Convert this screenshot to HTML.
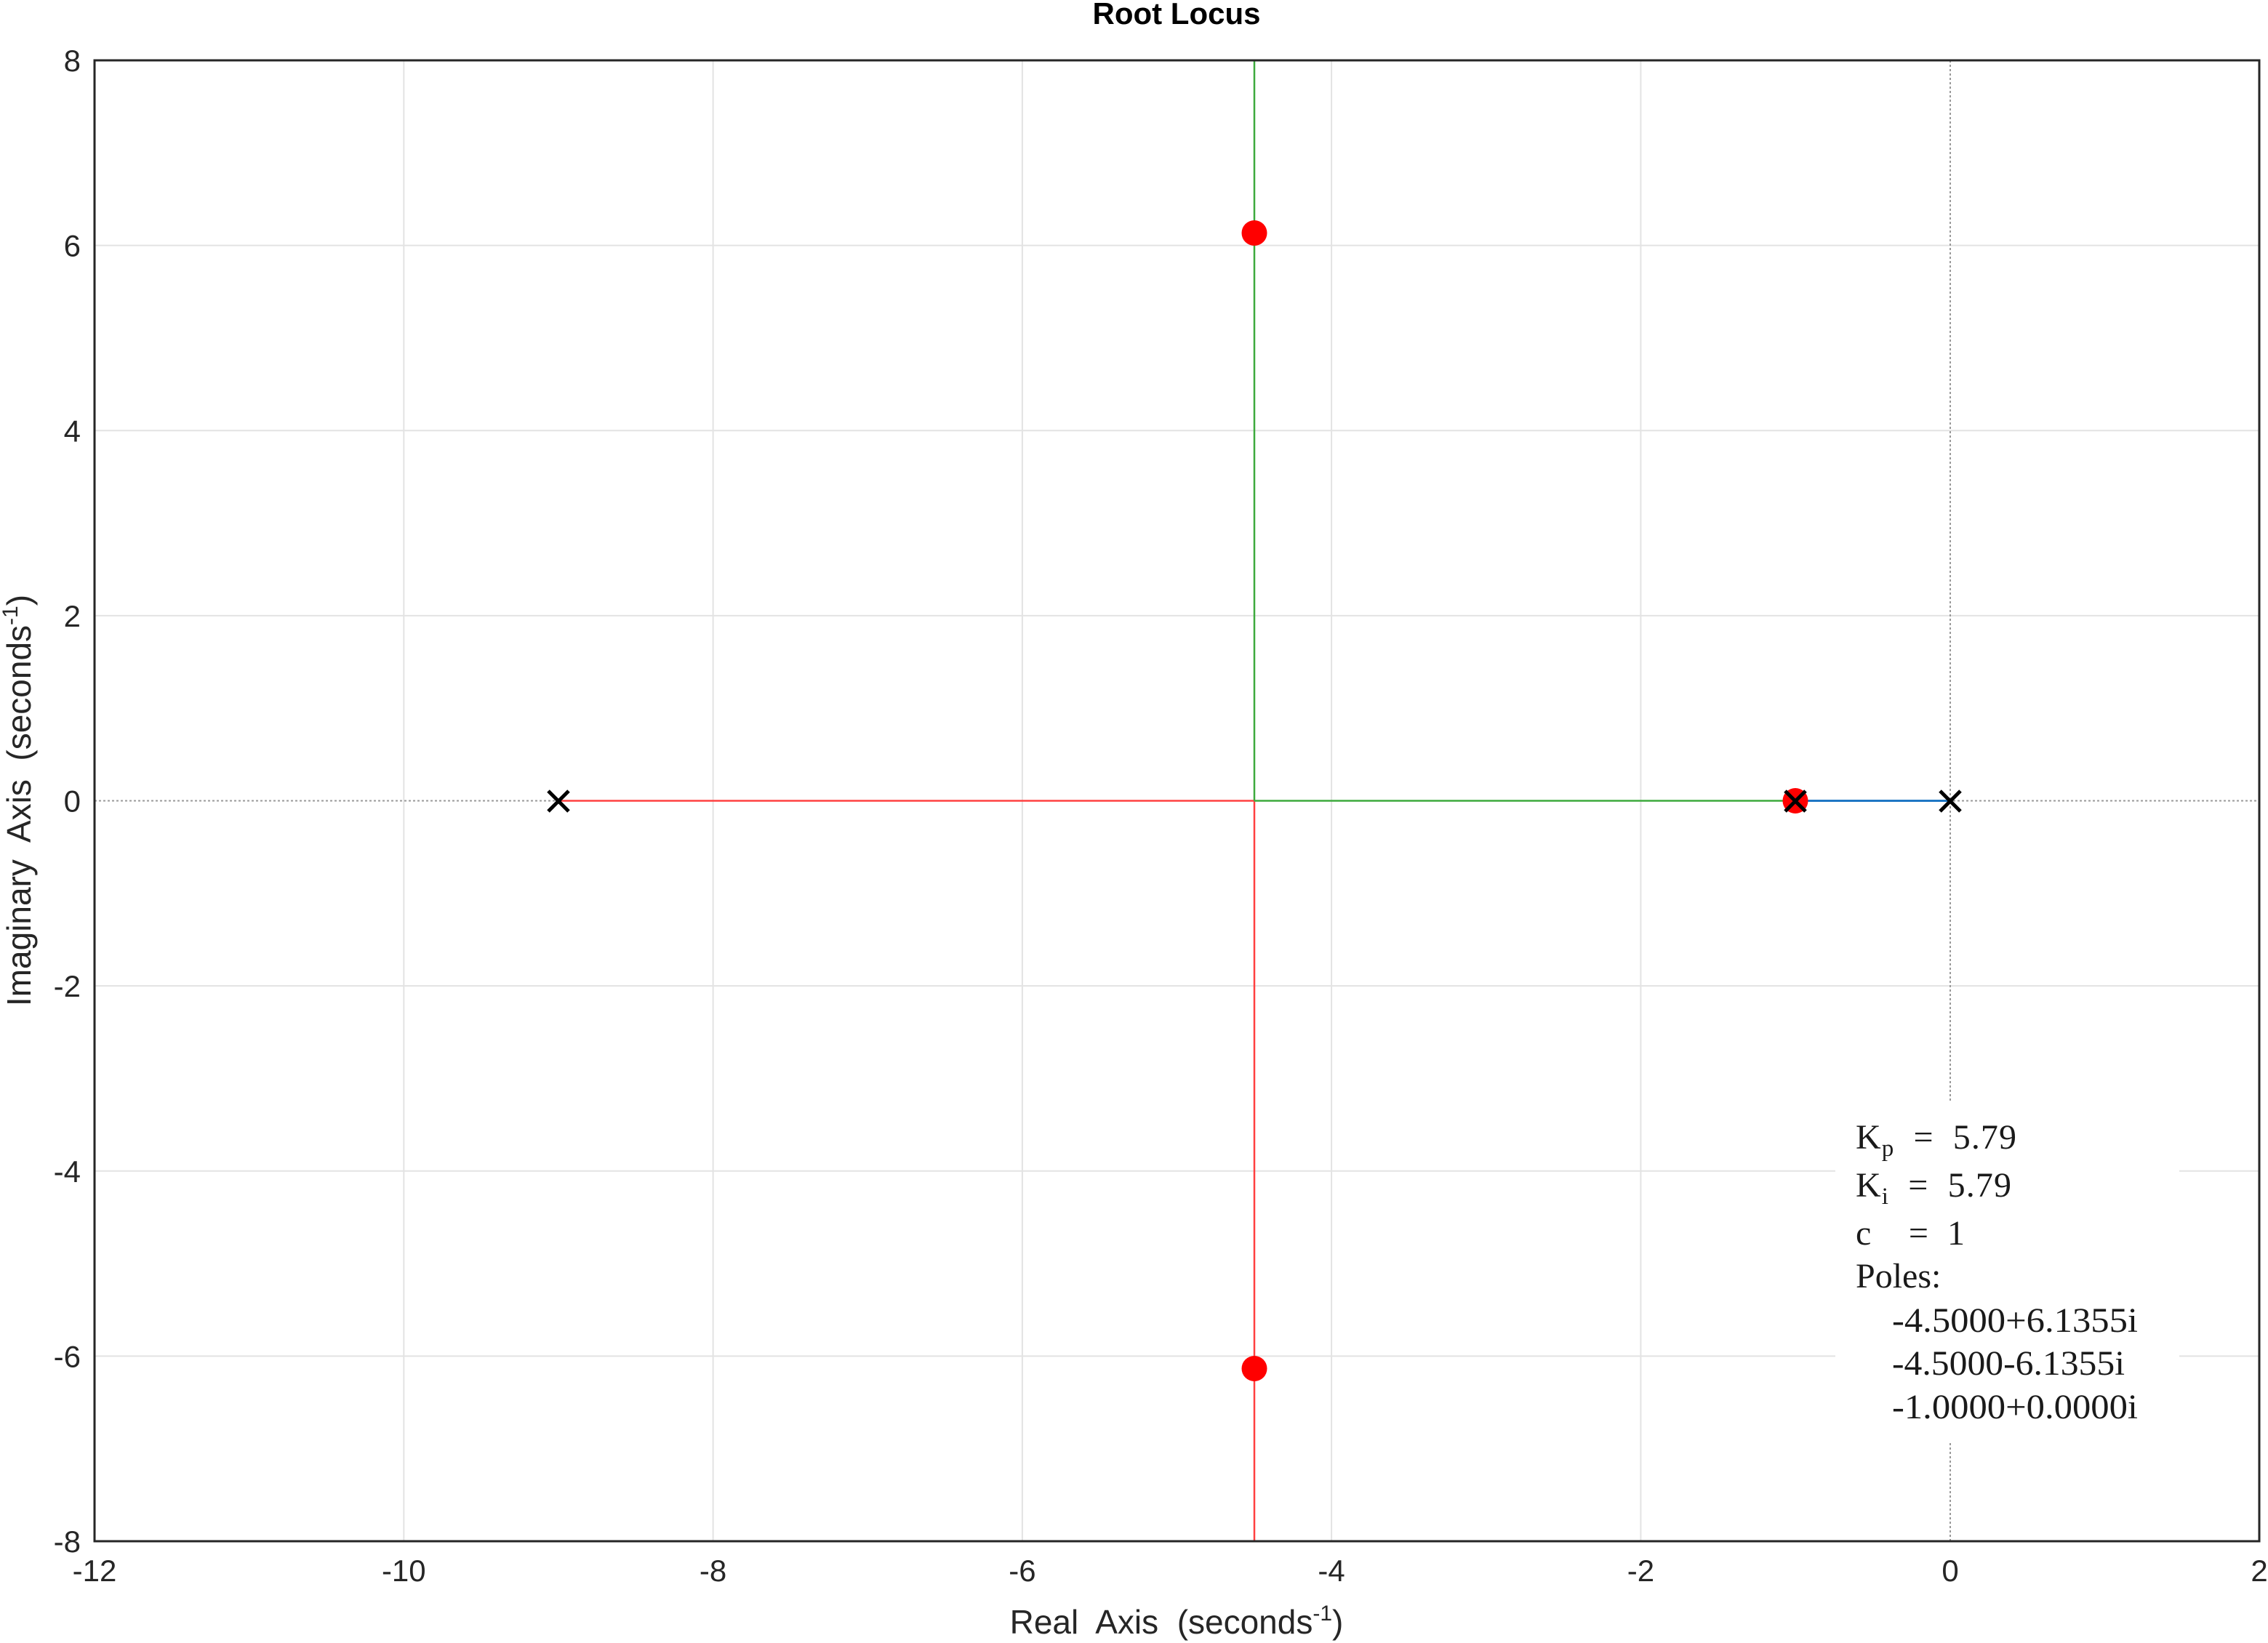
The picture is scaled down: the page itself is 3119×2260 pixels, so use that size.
<!DOCTYPE html>
<html><head><meta charset="utf-8"><style>html,body{margin:0;padding:0;background:#fff}svg{display:block}.pre{white-space:pre}</style></head>
<body>
<svg width="3119" height="2260" viewBox="0 0 3119 2260" xmlns="http://www.w3.org/2000/svg" font-family="Liberation Sans, Arial, sans-serif">
<rect width="3119" height="2260" fill="#fff"/>
<g stroke="#e3e3e3" stroke-width="2">
<line x1="555.3" y1="83" x2="555.3" y2="2120"/>
<line x1="980.6" y1="83" x2="980.6" y2="2120"/>
<line x1="1405.9" y1="83" x2="1405.9" y2="2120"/>
<line x1="1831.1" y1="83" x2="1831.1" y2="2120"/>
<line x1="2256.4" y1="83" x2="2256.4" y2="2120"/>
<line x1="130" y1="337.6" x2="3107" y2="337.6"/>
<line x1="130" y1="592.3" x2="3107" y2="592.3"/>
<line x1="130" y1="846.9" x2="3107" y2="846.9"/>
<line x1="130" y1="1356.1" x2="3107" y2="1356.1"/>
<line x1="130" y1="1610.8" x2="3107" y2="1610.8"/>
<line x1="130" y1="1865.4" x2="3107" y2="1865.4"/>
</g>
<g stroke="#999" stroke-width="2" stroke-dasharray="3,3">
<line x1="2682" y1="83" x2="2682" y2="2120"/>
<line x1="130" y1="1101.5" x2="3107" y2="1101.5"/>
</g>
<rect x="2524" y="1515" width="473" height="470" fill="#fff"/>
<g stroke-width="2.5" fill="none">
<line x1="768" y1="1101.5" x2="1725" y2="1101.5" stroke="#ff4040"/>
<line x1="1725" y1="1101.5" x2="1725" y2="2120" stroke="#ff4040"/>
<line x1="1725" y1="1101.5" x2="1725" y2="83" stroke="#3daa3d"/>
<line x1="1725" y1="1101.5" x2="2469" y2="1101.5" stroke="#3daa3d"/>
<line x1="2469" y1="1101.5" x2="2682" y2="1101.5" stroke="#1f77c4" stroke-width="3"/>
</g>
<g fill="#f00">
<circle cx="1725" cy="320.5" r="17.5"/>
<circle cx="1725" cy="1882.5" r="17.5"/>
<circle cx="2469" cy="1101.5" r="17.5"/>
</g>
<g stroke="#000" stroke-width="5">
<path d="M754 1088 l28 28 M782 1088 l-28 28"/>
<path d="M2455 1088 l28 28 M2483 1088 l-28 28"/>
<path d="M2668 1088 l28 28 M2696 1088 l-28 28"/>
</g>
<rect x="130" y="83" width="2977" height="2037" fill="none" stroke="#262626" stroke-width="3"/>
<g fill="#262626" font-size="42" text-anchor="middle">
<text x="130" y="2175">-12</text>
<text x="555.3" y="2175">-10</text>
<text x="980.6" y="2175">-8</text>
<text x="1405.9" y="2175">-6</text>
<text x="1831.1" y="2175">-4</text>
<text x="2256.4" y="2175">-2</text>
<text x="2682" y="2175">0</text>
<text x="3107" y="2175">2</text>
</g>
<g fill="#262626" font-size="42" text-anchor="end">
<text x="111" y="98">8</text>
<text x="111" y="352.6">6</text>
<text x="111" y="607.3">4</text>
<text x="111" y="861.9">2</text>
<text x="111" y="1116.5">0</text>
<text x="111" y="1371.1">-2</text>
<text x="111" y="1625.8">-4</text>
<text x="111" y="1880.4">-6</text>
<text x="111" y="2135">-8</text>
</g>
<text x="1618" y="33" font-size="42" font-weight="bold" text-anchor="middle" fill="#000">Root Locus</text>
<text class="pre" x="1618" y="2247" font-size="46" text-anchor="middle" fill="#262626">Real  Axis  (seconds<tspan font-size="30" dy="-18">-1</tspan><tspan dy="18">)</tspan></text>
<text class="pre" transform="translate(42,1101) rotate(-90)" font-size="46" text-anchor="middle" fill="#262626">Imaginary  Axis  (seconds<tspan font-size="30" dy="-18">-1</tspan><tspan dy="18">)</tspan></text>
<g font-family="Liberation Serif, Times New Roman, serif" font-size="48" fill="#1a1a1a">
<text class="pre" x="2552" y="1580" textLength="221" lengthAdjust="spacing">K<tspan font-size="33" dy="10">p</tspan><tspan dy="-10">  =  5.79</tspan></text>
<text class="pre" x="2552" y="1646" textLength="214" lengthAdjust="spacing">K<tspan font-size="33" dy="10">i</tspan><tspan dy="-10">  =  5.79</tspan></text>
<text class="pre" x="2552" y="1712" textLength="150" lengthAdjust="spacing">c    =  1</text>
<text class="pre" x="2552" y="1771">Poles:</text>
<text x="2602" y="1832" textLength="338" lengthAdjust="spacingAndGlyphs">-4.5000+6.1355i</text>
<text x="2602" y="1891" textLength="320" lengthAdjust="spacingAndGlyphs">-4.5000-6.1355i</text>
<text x="2602" y="1951" textLength="338" lengthAdjust="spacingAndGlyphs">-1.0000+0.0000i</text>
</g>
</svg>
</body></html>
